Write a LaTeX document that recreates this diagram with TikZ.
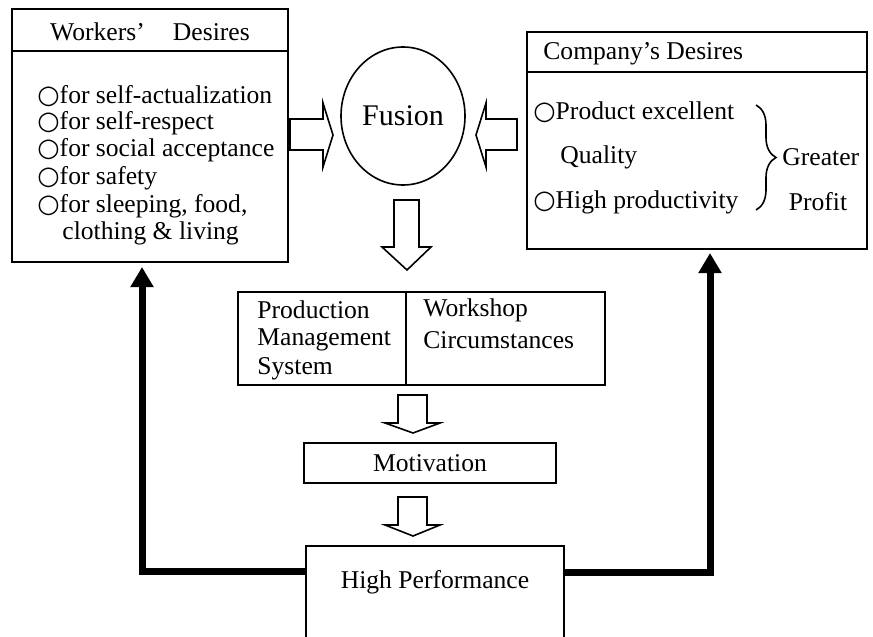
\documentclass[tikz,border=0pt]{standalone}
\usepackage{fontspec}
\setmainfont{Liberation Serif}
\newfontfamily\symfont{DejaVu Sans}
\usetikzlibrary{arrows.meta,shapes.geometric,decorations.pathreplacing,calc}
\newcommand{\wcirc}{{\symfont ○}}
\begin{document}
\begin{tikzpicture}[x=0.5pt,y=-0.5pt, font=\fontsize{12.8}{13.8}\selectfont,
 box/.style={draw, line width=1pt, inner sep=0pt},
 txt/.style={inner sep=0pt, anchor=west},
 hollow/.style={draw, line width=0.8pt, fill=white, line join=miter},
 conn/.style={line width=3.5pt, -{Triangle[length=10pt,width=11pt]}, line join=miter}]
\useasboundingbox (0,0) rectangle (873,637);
\clip (0,0) rectangle (873,637);

% Workers' desires
\node[box, minimum width=138pt, minimum height=126.5pt] (wk) at (150,135.5) {};
\coordinate (wkh) at (0,51);
\draw[line width=1pt] (wk.west |- wkh) -- (wk.east |- wkh);
\node[inner sep=0pt] (wkt) at (150,32) {Workers’\hspace{1.1em}Desires};
\node[txt] (w1) at (37,96) {\wcirc for self-actualization};
\node[txt] (w2) at (37,123) {\wcirc for self-respect};
\node[txt] (w3) at (37,150) {\wcirc for social acceptance};
\node[txt] (w4) at (37,178) {\wcirc for safety};
\node[txt] (w5) at (37,206) {\wcirc for sleeping, food,};
\node[txt] (w6) at (62,233) {clothing \& living};

% Fusion
\node[draw, ellipse, line width=0.8pt, minimum width=62pt, minimum height=69pt, inner sep=0pt,
      font=\fontsize{15}{17}\selectfont] (fu) at (403,116) {Fusion};

% Company's desires
\node[box, minimum width=170pt, minimum height=108.5pt] (co) at (697,140.5) {};
\coordinate (coh) at (0,72);
\draw[line width=1pt] (co.west |- coh) -- (co.east |- coh);
\node[txt] (cot) at (543,54) {Company’s Desires};
\node[txt] (c1) at (533,112) {\wcirc Product excellent};
\node[txt] (c2) at (560,157) {Quality};
\node[txt] (c3) at (533,202) {\wcirc High productivity};
\draw[line width=0.8pt, decorate, decoration={brace, amplitude=10pt, aspect=0.5}] (756,105) -- (756,210);
\node[txt] (c4) at (782,157) {Greater};
\node[inner sep=0pt] (c5) at (818,202) {Profit};

% hollow arrows into fusion
\draw[hollow] (290,119) -- (323,119) -- (323,103) -- (333,135) -- (323,167) -- (323,150) -- (290,150) -- cycle;
\draw[hollow] (517,119) -- (486,119) -- (486,103) -- (476,135) -- (486,167) -- (486,150) -- (517,150) -- cycle;
\draw[hollow] (394,200) -- (419,200) -- (419,247) -- (431,247) -- (407,270) -- (382,247) -- (394,247) -- cycle;

% Production / Workshop
\node[box, minimum width=183.5pt, minimum height=46.5pt] (pm) at (421.5,338.5) {};
\coordinate (dv) at (406,0);
\draw[line width=1pt] (dv |- pm.north) -- (dv |- pm.south);
\node[txt] (p1) at (257,310) {Production};
\node[txt] (p2) at (257,340) {Management};
\node[txt] (p3) at (257,369) {System};
\node[txt] (p4) at (423,310) {Workshop};
\node[txt] (p5) at (423,340) {Circumstances};

\draw[hollow] (398,395) -- (427,395) -- (427,423) -- (440,423) -- (413,433) -- (385,423) -- (398,423) -- cycle;

% Motivation
\node[box, minimum width=126pt, minimum height=20pt] (mo) at (430,463) {Motivation};

\draw[hollow] (398,497) -- (427,497) -- (427,525) -- (440,525) -- (413,536) -- (385,525) -- (398,525) -- cycle;

% High performance
\node[box, minimum width=129pt, minimum height=52pt] (hp) at (435,598) {};
\node[inner sep=0pt] (hpt) at (435,582) {High Performance};

% feedback connectors
\coordinate (lb) at (142,571);
\coordinate (rb) at (710,572);
\draw[conn, shorten >=2pt] (hp.west |- lb) -- (lb) -- (lb |- wk.south);
\draw[conn, shorten >=1.5pt] (hp.east |- rb) -- (rb) -- (rb |- co.south);
\end{tikzpicture}
\end{document}
